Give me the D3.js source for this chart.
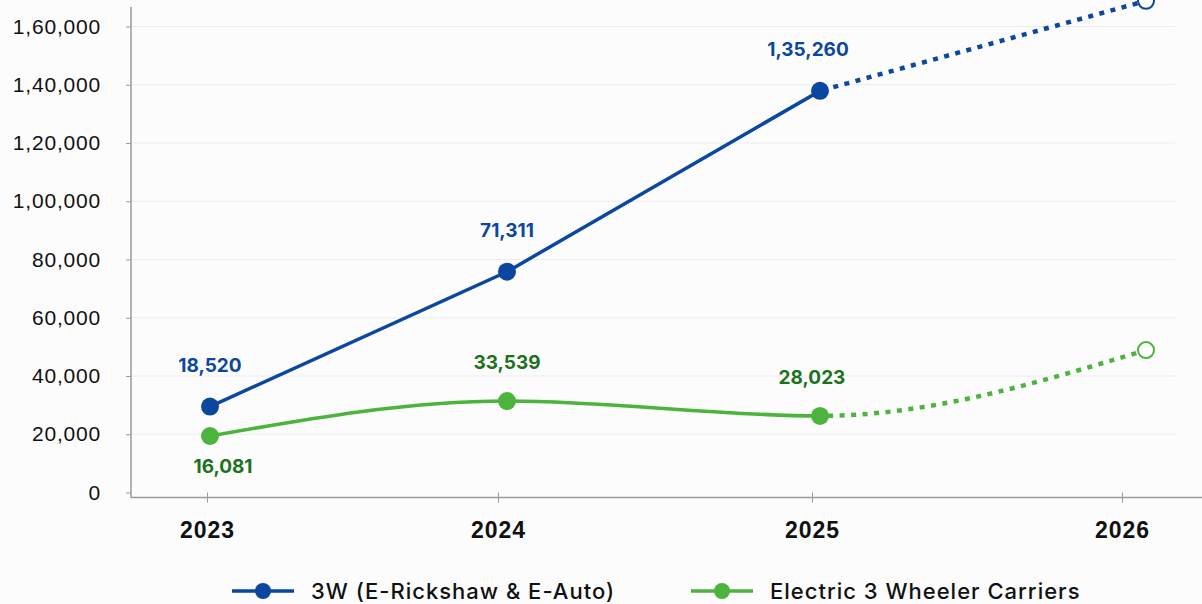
<!DOCTYPE html>
<html>
<head>
<meta charset="utf-8">
<script src="https://cdn.jsdelivr.net/npm/d3@7"></script>
<style>
  body { margin: 0; background: #fcfcfc; }
  svg { display: block; font-family: Inter, "Noto Sans", sans-serif; }
</style>
</head>
<body>
<svg id="chart" width="1202" height="604"></svg>
<script>
// categories
const years = [2023, 2024, 2025, 2026];
// plotted values (as drawn) and the printed labels
const rickshawValues = [29500, 75800, 137900, 168800];
const carrierValues = [19400, 31400, 26300, 48900];
const rickshawLabels = ['18,520', '71,311', '1,35,260'];
const carrierLabels = ['16,081', '33,539', '28,023'];
const carrierLabelSide = ['below', 'above', 'above'];
const yTicks = [0, 20000, 40000, 60000, 80000, 100000, 120000, 140000, 160000];
const yTickLabels = ['0', '20,000', '40,000', '60,000', '80,000', '1,00,000', '1,20,000', '1,40,000', '1,60,000'];
const seriesNames = ['3W (E-Rickshaw & E-Auto)', 'Electric 3 Wheeler Carriers'];

const blue = '#0b479f';
const green = '#4cb33c';
const greenText = '#1c721c';

const svg = d3.select('#chart');

const y = d3.scaleLinear().domain([0, 160000]).range([492.5, 26.5]);
// axis ticks and the marks sit a little apart in the reference
const xTick = d3.scaleLinear().domain(years).range([207, 498, 812, 1122]);
const x = d3.scaleLinear().domain(years).range([210, 507, 820, 1146]);

// gridlines
svg.append('g')
  .selectAll('line')
  .data(yTicks.slice(1))
  .enter().append('line')
  .attr('x1', 131).attr('x2', 1175)
  .attr('y1', d => y(d)).attr('y2', d => y(d))
  .attr('stroke', '#ececec').attr('stroke-width', 1);

// y axis
const yAxis = svg.append('g')
  .attr('transform', 'translate(131,0)')
  .call(d3.axisLeft(y).tickValues(yTicks).tickSize(5).tickPadding(25)
    .tickFormat((d, i) => yTickLabels[i]));
yAxis.select('.domain').attr('d', 'M0,7V497.5').attr('stroke', '#9a9a9a').attr('stroke-width', 1.5);
yAxis.selectAll('.tick line').attr('stroke', '#9a9a9a');
yAxis.selectAll('.tick text').attr('font-size', 21).attr('letter-spacing', 0.8).attr('fill', '#111');

// x axis
const xAxis = svg.append('g')
  .attr('transform', 'translate(0,497.5)')
  .call(d3.axisBottom(xTick).tickValues(years).tickSize(5).tickPadding(19).tickFormat(d3.format('d')));
xAxis.select('.domain').attr('d', 'M131,0H1202').attr('stroke', '#9a9a9a').attr('stroke-width', 1.5);
xAxis.selectAll('.tick line').attr('y1', -5).attr('stroke', '#9a9a9a');
xAxis.selectAll('.tick text').attr('font-size', 23).attr('font-weight', 700)
  .attr('letter-spacing', 1).attr('fill', '#111');

// clip: solid up to 2025, dotted after
const defs = svg.append('defs');
defs.append('clipPath').attr('id', 'solid')
  .append('rect').attr('x', 0).attr('y', 0).attr('width', x(2025)).attr('height', 604);
defs.append('clipPath').attr('id', 'dotted')
  .append('rect').attr('x', x(2025)).attr('y', 0).attr('width', 1202 - x(2025)).attr('height', 604);

function drawSeries(values, color, curve) {
  const line = d3.line()
    .x((d, i) => x(years[i]))
    .y(d => y(d))
    .curve(curve);
  const g = svg.append('g');
  g.append('path').datum(values)
    .attr('d', line).attr('fill', 'none')
    .attr('stroke', color).attr('stroke-width', 3.5)
    .attr('clip-path', 'url(#solid)');
  g.append('path').datum(values)
    .attr('d', line).attr('fill', 'none')
    .attr('stroke', color).attr('stroke-width', 4.5)
    .attr('stroke-dasharray', '5,6.5')
    .attr('clip-path', 'url(#dotted)');
  g.selectAll('circle.actual')
    .data(values.slice(0, 3))
    .enter().append('circle')
    .attr('class', 'actual')
    .attr('cx', (d, i) => x(years[i])).attr('cy', d => y(d))
    .attr('r', 9).attr('fill', color);
  g.append('circle')
    .attr('cx', x(years[3])).attr('cy', y(values[3]))
    .attr('r', 8).attr('fill', '#fff')
    .attr('stroke', color).attr('stroke-width', 2);
}

drawSeries(rickshawValues, blue, d3.curveLinear);
drawSeries(carrierValues, green, d3.curveMonotoneX);

// value labels
svg.append('g').selectAll('text')
  .data(rickshawLabels)
  .enter().append('text')
  .attr('x', (d, i) => x(years[i]) - (i === 2 ? 12 : 0))
  .attr('y', (d, i) => y(rickshawValues[i]) - 35)
  .attr('text-anchor', 'middle')
  .attr('font-size', 19).attr('font-weight', 700)
  .attr('fill', blue)
  .text(d => d);

svg.append('g').selectAll('text')
  .data(carrierLabels)
  .enter().append('text')
  .attr('x', (d, i) => x(years[i]) + (i === 0 ? 13 : (i === 2 ? -8 : 0)))
  .attr('y', (d, i) => carrierLabelSide[i] === 'below' ? y(carrierValues[i]) + 37 : y(carrierValues[i]) - 32)
  .attr('text-anchor', 'middle')
  .attr('font-size', 19).attr('font-weight', 700)
  .attr('fill', greenText)
  .text(d => d);

// legend
const legend = svg.append('g').attr('transform', 'translate(0,591)');
const legendItems = legend.selectAll('g')
  .data(seriesNames)
  .enter().append('g')
  .attr('transform', (d, i) => 'translate(' + [232, 691][i] + ',0)');
legendItems.append('line')
  .attr('x1', 0).attr('x2', 62).attr('y1', 0).attr('y2', 0)
  .attr('stroke', (d, i) => [blue, green][i]).attr('stroke-width', 3.5);
legendItems.append('circle')
  .attr('cx', 31).attr('cy', 0).attr('r', 8)
  .attr('fill', (d, i) => [blue, green][i]);
legendItems.append('text')
  .attr('x', 79).attr('y', 0).attr('dy', '0.35em')
  .attr('font-size', 22).attr('font-weight', 500).attr('letter-spacing', 1)
  .attr('fill', '#111')
  .text(d => d);
</script>
</body>
</html>
